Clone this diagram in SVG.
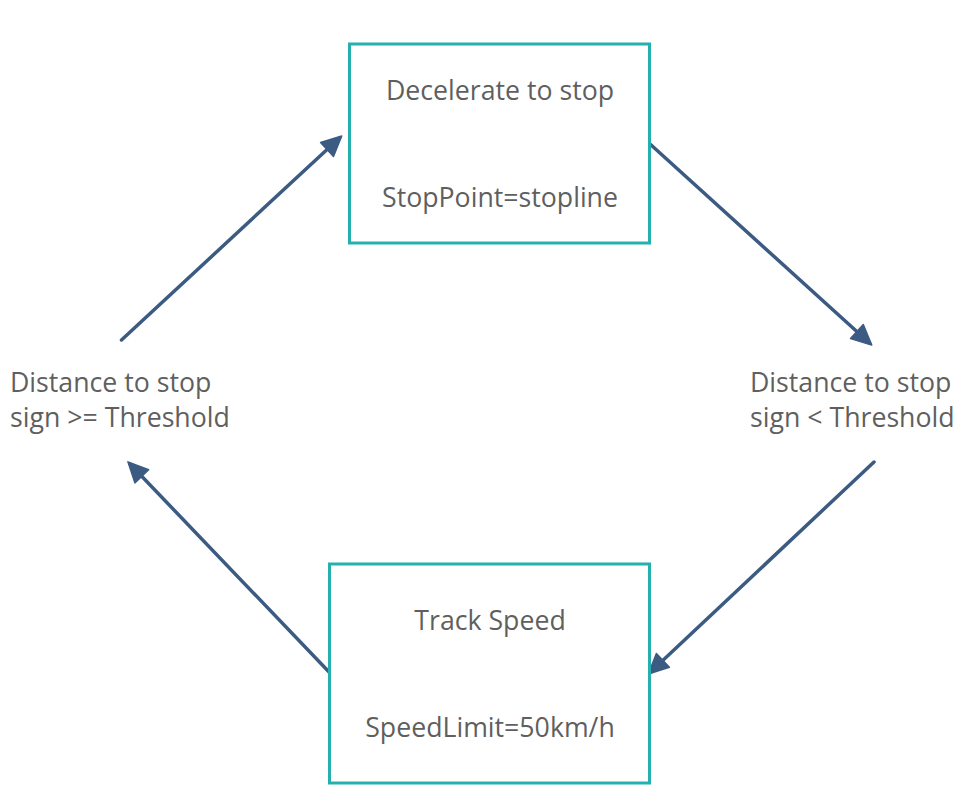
<svg xmlns="http://www.w3.org/2000/svg" width="980" height="812" viewBox="0 0 980 812">
<style>
.box{fill:#ffffff;stroke:#23b0ae;stroke-width:3}
.t{font-family:"Open Sans","Noto Sans","Liberation Sans",sans-serif;font-size:26.7px;fill:#5f5f5f}
.c{text-anchor:middle}
.edge{stroke:#3c5b82;stroke-width:3.5;stroke-linecap:round;fill:none;marker-end:url(#ah)}
</style>
<defs>
<marker id="ah" markerUnits="userSpaceOnUse" markerWidth="24" markerHeight="24" viewBox="0 0 24 24" refX="19" refY="12" orient="auto">
<path d="M2,2.5 L22,12 L2,21.5 Z" fill="#3c5b82" stroke="#3c5b82" stroke-width="1.5" stroke-linejoin="round"/>
</marker>
</defs>
<rect width="980" height="812" fill="#ffffff"/>
<g id="connectors">
<line class="edge" x1="121.5" y1="340" x2="339.5" y2="138"/>
<line class="edge" x1="650" y1="144" x2="869.5" y2="343"/>
<line class="edge" x1="874" y1="462" x2="650.5" y2="672"/>
<line class="edge" x1="330" y1="673" x2="130" y2="464"/>
</g>
<g id="node-decelerate">
<rect class="box" x="349.5" y="44" width="300" height="199"/>
<text class="t c" x="500" y="99.5">Decelerate to stop</text>
<text class="t c" x="500" y="206.5">StopPoint=stopline</text>
</g>
<g id="node-track">
<rect class="box" x="329.5" y="564" width="320" height="219"/>
<text class="t c" x="490" y="630">Track Speed</text>
<text class="t c" x="490" y="737">SpeedLimit=50km/h</text>
</g>
<g id="label-left">
<text class="t" x="10" y="391.5">Distance to stop</text>
<text class="t" x="10" y="426.5">sign &gt;= Threshold</text>
</g>
<g id="label-right">
<text class="t" x="750" y="391.5">Distance to stop</text>
<text class="t" x="750" y="426.5">sign &lt; Threshold</text>
</g>
</svg>
